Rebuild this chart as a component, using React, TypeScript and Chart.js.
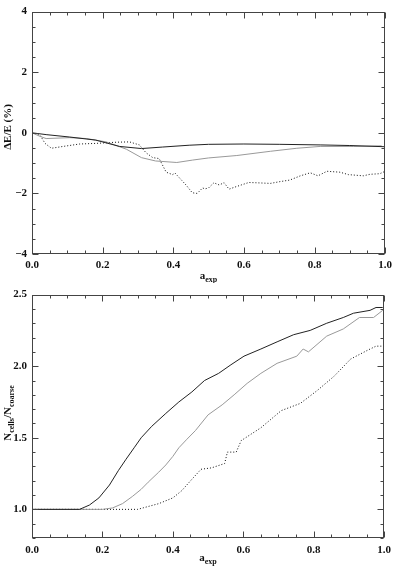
import React, { useEffect, useRef } from 'react';
import { Chart, registerables } from 'chart.js';
Chart.register(...registerables);

// ---------- Top panel data (ΔE/E in %) ----------
const solidTopA = [0, 0.04, 0.107, 0.18, 0.248, 0.31, 0.37, 0.445, 0.5, 0.6, 0.7, 0.816, 0.9, 1.0];
const solidTopV = [0, -0.06, -0.14, -0.24, -0.45, -0.52, -0.47, -0.41, -0.38, -0.37, -0.38, -0.40, -0.42, -0.46];

const grayTopA = [0, 0.023, 0.04, 0.107, 0.154, 0.21, 0.267, 0.31, 0.35, 0.41, 0.455, 0.5, 0.58, 0.675, 0.75, 0.816, 0.91, 0.99];
const grayTopV = [0, -0.12, -0.19, -0.16, -0.19, -0.30, -0.54, -0.82, -0.93, -0.98, -0.90, -0.83, -0.75, -0.61, -0.51, -0.45, -0.45, -0.43];

const dottedTopA = [0, 0.023, 0.037, 0.055, 0.088, 0.135, 0.18, 0.24, 0.276, 0.304, 0.323, 0.342, 0.36, 0.38, 0.398, 0.405, 0.436, 0.454, 0.468, 0.483, 0.49, 0.5, 0.515, 0.53, 0.544, 0.558, 0.58, 0.614, 0.637, 0.675, 0.703, 0.73, 0.76, 0.788, 0.81, 0.835, 0.872, 0.896, 0.938, 0.957, 0.985, 1.0];
const dottedTopV = [0, -0.08, -0.35, -0.51, -0.45, -0.37, -0.35, -0.31, -0.30, -0.40, -0.66, -0.82, -0.85, -1.30, -1.38, -1.33, -1.72, -1.98, -2.0, -1.82, -1.85, -1.82, -1.65, -1.72, -1.65, -1.86, -1.77, -1.64, -1.65, -1.67, -1.61, -1.56, -1.42, -1.32, -1.42, -1.27, -1.30, -1.38, -1.42, -1.37, -1.35, -1.27];

// ---------- Bottom panel data (N_cells / N_coarse) ----------
const solidBotA = [0, 0.135, 0.163, 0.19, 0.22, 0.245, 0.267, 0.29, 0.31, 0.34, 0.38, 0.417, 0.454, 0.49, 0.53, 0.565, 0.602, 0.65, 0.696, 0.743, 0.79, 0.837, 0.884, 0.913, 0.96, 0.977, 0.996];
const solidBotV = [1.0, 1.0, 1.03, 1.08, 1.17, 1.27, 1.35, 1.43, 1.5, 1.58, 1.67, 1.75, 1.82, 1.9, 1.95, 2.01, 2.07, 2.12, 2.17, 2.22, 2.25, 2.3, 2.34, 2.37, 2.39, 2.41, 2.41];

const grayBotA = [0, 0.2, 0.229, 0.257, 0.285, 0.31, 0.33, 0.36, 0.38, 0.40, 0.417, 0.44, 0.464, 0.5, 0.54, 0.574, 0.611, 0.65, 0.696, 0.752, 0.77, 0.785, 0.837, 0.884, 0.93, 0.97, 0.996];
const grayBotV = [1.0, 1.0, 1.01, 1.04, 1.09, 1.14, 1.19, 1.26, 1.31, 1.37, 1.43, 1.49, 1.55, 1.66, 1.73, 1.8, 1.88, 1.95, 2.02, 2.07, 2.12, 2.1, 2.21, 2.26, 2.34, 2.34, 2.39];

const dottedBotA = [0, 0.3, 0.33, 0.36, 0.4, 0.425, 0.454, 0.48, 0.51, 0.547, 0.555, 0.58, 0.594, 0.65, 0.708, 0.762, 0.81, 0.858, 0.905, 0.952, 0.977, 1.0];
const dottedBotV = [1.0, 1.0, 1.02, 1.04, 1.08, 1.13, 1.21, 1.28, 1.29, 1.32, 1.4, 1.4, 1.48, 1.57, 1.69, 1.74, 1.83, 1.93, 2.05, 2.11, 2.14, 2.14];

// ---------- Ticks ----------
const xMajor = [0, 0.2, 0.4, 0.6, 0.8, 1.0];
const xMinorStep = 0.05;
const topYMajor = [-4, -2, 0, 2, 4];
const topYMinorStep = 0.5;
const botYMajor = [1.0, 1.5, 2.0, 2.5];
const botYMinorStep = 0.1;

const FONT = '"Liberation Serif", "DejaVu Serif", serif';

function pts(a: number[], v: number[]) {
  return a.map((x, i) => ({ x, y: v[i] }));
}

function minorValues(min: number, max: number, step: number) {
  const out: number[] = [];
  const n = Math.round((max - min) / step);
  const start = Math.ceil(min / step - 1e-6);
  for (let k = start; k * step <= max + 1e-9; k++) out.push(+(k * step).toFixed(6));
  return out;
}

type TitlePart = { t: string; sub?: boolean };

function drawParts(ctx: CanvasRenderingContext2D, parts: TitlePart[], cx: number, cy: number, size: number) {
  const main = `bold ${size}px ${FONT}`;
  const sub = `bold ${Math.round(size * 0.72)}px ${FONT}`;
  let total = 0;
  for (const p of parts) {
    ctx.font = p.sub ? sub : main;
    total += ctx.measureText(p.t).width;
  }
  let x = cx - total / 2;
  ctx.textBaseline = 'alphabetic';
  ctx.textAlign = 'left';
  for (const p of parts) {
    ctx.font = p.sub ? sub : main;
    ctx.fillText(p.t, x, cy + (p.sub ? 3 : 0));
    x += ctx.measureText(p.t).width;
  }
}

type PanelProps = {
  height: number;
  padTop: number;
  yMin: number;
  yMax: number;
  yMajor: number[];
  yMinorStep: number;
  yFmt: (v: number) => string;
  yTitle: TitlePart[];
  yTitleY: number;
  xTitleY: number;
  xLabelPad: number;
  series: { a: number[]; v: number[]; color: string; dash?: number[] }[];
};

function Panel(props: PanelProps) {
  const ref = useRef<HTMLCanvasElement | null>(null);
  useEffect(() => {
    if (!ref.current) return;
    const p = props;
    const framePlugin = {
      id: 'frameTicks',
      afterDraw(chart: any) {
        const ctx = chart.ctx as CanvasRenderingContext2D;
        const { left, right, top, bottom } = chart.chartArea;
        const xs = chart.scales.x;
        const ys = chart.scales.y;
        const L = Math.round(left) + 0.5;
        const R = Math.round(right) - 0.5;
        const T = Math.round(top) + 0.5;
        const B = Math.round(bottom) - 0.5;
        ctx.save();
        ctx.strokeStyle = '#444';
        ctx.lineWidth = 1;
        ctx.strokeRect(L, T, R - L, B - T);
        const major = 6, minor = 3;
        // x ticks
        for (const v of minorValues(0, 1, xMinorStep)) {
          const isMajor = xMajor.some((m) => Math.abs(m - v) < 1e-6);
          const len = isMajor ? major : minor;
          const px = Math.round(xs.getPixelForValue(v)) + 0.5;
          ctx.beginPath();
          ctx.moveTo(px, B); ctx.lineTo(px, B - len);
          ctx.moveTo(px, T); ctx.lineTo(px, T + len);
          ctx.stroke();
        }
        for (const v of minorValues(p.yMin, p.yMax, p.yMinorStep)) {
          const isMajor = p.yMajor.some((m) => Math.abs(m - v) < 1e-6);
          const len = isMajor ? major : minor;
          const py = Math.round(ys.getPixelForValue(v)) + 0.5;
          ctx.beginPath();
          ctx.moveTo(L, py); ctx.lineTo(L + len, py);
          ctx.moveTo(R, py); ctx.lineTo(R - len, py);
          ctx.stroke();
        }
        ctx.fillStyle = '#111';
        // x title
        drawParts(ctx, [{ t: 'a' }, { t: 'exp', sub: true }], (left + right) / 2, p.xTitleY, 11);
        // y title
        ctx.save();
        ctx.translate(11, p.yTitleY);
        ctx.rotate(-Math.PI / 2);
        drawParts(ctx, p.yTitle, 0, 0, 11);
        ctx.restore();
        ctx.restore();
      },
    };
    const chart = new Chart(ref.current, {
      type: 'line',
      data: {
        datasets: p.series.map((s) => ({
          data: pts(s.a, s.v),
          borderColor: s.color,
          borderWidth: 1,
          borderDash: s.dash || [],
          pointRadius: 0,
          tension: 0,
          fill: false,
        })),
      },
      options: {
        animation: false,
        responsive: true,
        maintainAspectRatio: false,
        parsing: false as any,
        layout: { padding: { top: p.padTop, right: 8, left: 0, bottom: 0 } },
        plugins: { legend: { display: false }, tooltip: { enabled: false }, title: { display: false } },
        scales: {
          x: {
            type: 'linear',
            min: 0,
            max: 1,
            grid: { display: false, drawTicks: false },
            border: { display: false },
            afterFit: (s: any) => { s.height = 29; },
            afterBuildTicks: (s: any) => { s.ticks = xMajor.map((v) => ({ value: v })); },
            ticks: {
              padding: p.xLabelPad,
              maxRotation: 0,
              autoSkip: false,
              color: '#111',
              font: { family: FONT, size: 11, weight: 'bold' },
              callback: (v: any) => Number(v).toFixed(1),
            },
          },
          y: {
            type: 'linear',
            min: p.yMin,
            max: p.yMax,
            grid: { display: false, drawTicks: false },
            border: { display: false },
            afterFit: (s: any) => { s.width = 32; },
            afterBuildTicks: (s: any) => { s.ticks = p.yMajor.map((v) => ({ value: v })); },
            ticks: {
              padding: 5,
              autoSkip: false,
              color: '#111',
              font: { family: FONT, size: 11, weight: 'bold' },
              callback: (v: any) => p.yFmt(Number(v)),
            },
          },
        },
      },
      plugins: [framePlugin],
    } as any);
    return () => chart.destroy();
  }, []);
  return (
    <div style={{ position: 'relative', width: 397, height: props.height }}>
      <canvas ref={ref} />
    </div>
  );
}

export default function App() {
  return (
    <div style={{ position: 'absolute', left: 0, top: 0, width: 397, height: 567, background: '#fff' }}>
      <Panel
        height={283}
        padTop={1}
        yMin={-4}
        yMax={4}
        yMajor={topYMajor}
        yMinorStep={topYMinorStep}
        yFmt={(v) => (v < 0 ? '\u2212' + Math.abs(v) : String(v))}
        yTitle={[{ t: '\u0394E/E (%)' }]}
        yTitleY={127}
        xTitleY={279}
        xLabelPad={5}
        series={[
          { a: solidTopA, v: solidTopV, color: '#222' },
          { a: grayTopA, v: grayTopV, color: '#999' },
          { a: dottedTopA, v: dottedTopV, color: '#111', dash: [1, 2] },
        ]}
      />
      <Panel
        height={284}
        padTop={4}
        yMin={0.8}
        yMax={2.5}
        yMajor={botYMajor}
        yMinorStep={botYMinorStep}
        yFmt={(v) => v.toFixed(1)}
        yTitle={[{ t: 'N' }, { t: 'cells', sub: true }, { t: '/N' }, { t: 'coarse', sub: true }]}
        yTitleY={130}
        xTitleY={278}
        xLabelPad={6}
        series={[
          { a: solidBotA, v: solidBotV, color: '#222' },
          { a: grayBotA, v: grayBotV, color: '#999' },
          { a: dottedBotA, v: dottedBotV, color: '#111', dash: [1, 2] },
        ]}
      />
    </div>
  );
}
